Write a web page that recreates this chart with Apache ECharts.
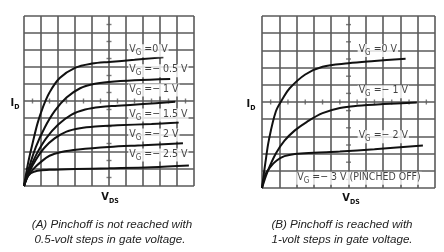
<!DOCTYPE html>
<html><head><meta charset="utf-8">
<script src="https://cdn.jsdelivr.net/npm/echarts@6/dist/echarts.min.js"></script>
<style>html,body{margin:0;padding:0;background:#fff}#c{width:444px;height:252px}</style>
</head><body><div id="c"></div><script>
// ---- data (grid units, 0..10 on both axes) ----
const gridTicks = [0,1,2,3,4,5,6,7,8,9,10];
// Panel A curves: [VDS, ID]
const A_vg0    = [[0,0],[0.25,1.4],[0.55,2.7],[0.8,3.7],[1.1,4.6],[1.5,5.5],[2.1,6.35],[3,6.95],[4,7.2],[5,7.3],[6.5,7.42],[8.2,7.58]];
const A_vg05   = [[0,0],[0.3,1.1],[0.7,2.3],[1.2,3.4],[1.8,4.4],[2.5,5.2],[3.3,5.75],[4.1,6.0],[5,6.12],[6.5,6.22],[8.6,6.3]];
const A_vg1    = [[0,0],[0.3,0.9],[0.7,1.8],[1.3,2.8],[2,3.6],[2.8,4.2],[3.6,4.5],[4.5,4.65],[5.5,4.72],[7,4.82],[8.9,4.95]];
const A_vg15   = [[0,0],[0.3,0.8],[0.7,1.55],[1.2,2.25],[1.8,2.8],[2.5,3.2],[3.3,3.4],[4.2,3.5],[5.5,3.57],[7.5,3.65],[9.1,3.73]];
const A_vg2    = [[0,0],[0.25,0.6],[0.6,1.05],[1,1.42],[1.5,1.78],[2.2,2.0],[3.2,2.15],[5,2.3],[7,2.4],[9.35,2.52]];
const A_vg25   = [[0,0],[0.15,0.45],[0.4,0.75],[0.8,0.9],[1.5,0.95],[3,1.0],[5,1.04],[7.5,1.1],[9.7,1.2]];
const A_curves = [A_vg0, A_vg05, A_vg1, A_vg15, A_vg2, A_vg25];
const A_labels = ['0 V','\u2212 0.5 V','\u2212 1 V','\u2212 1.5 V','\u2212 2 V','\u2212 2.5 V'];
const A_labelAnchors = [[6.1,7.96],[6.1,6.78],[6.1,5.65],[6.1,4.18],[6.1,3.0],[6.1,1.82]];
// Panel B curves
const B_vg0    = [[0,0],[0.2,1.5],[0.4,2.8],[0.8,4.45],[1.2,5.2],[1.6,5.8],[2.5,6.6],[3.5,7.05],[5,7.25],[6.5,7.38],[8.3,7.52]];
const B_vg1    = [[0,0],[0.3,0.9],[0.8,2.0],[1.3,2.75],[1.9,3.35],[2.6,3.85],[3.5,4.35],[4.5,4.65],[5.5,4.78],[7,4.88],[8.95,4.97]];
const B_vg2    = [[0,0],[0.2,0.8],[0.5,1.25],[0.85,1.6],[1.3,1.85],[1.9,1.98],[3,2.05],[4.5,2.12],[6.5,2.25],[9.3,2.47]];
const B_curves = [B_vg0, B_vg1, B_vg2];
const B_labels = ['0 V','\u2212 1 V','\u2212 2 V','\u2212 3 V (PINCHED OFF)'];
const B_labelAnchors = [[5.5,8.0],[5.5,5.6],[5.5,2.98],[1.95,0.57]];
const captionA = ['(A) Pinchoff is not reached with','0.5-volt steps in gate voltage.'];
const captionB = ['(B) Pinchoff is reached with','1-volt steps in gate voltage.'];

// ---- chart ----
const F = '"DejaVu Sans Condensed","Liberation Sans Narrow",sans-serif';
const GRIDC = '#5a5a5a';
const halves = gridTicks.slice(0,10).map(t => t + 0.5);

function axis(idx){
  return {
    type:'value', min:0, max:10, interval:1, gridIndex:idx,
    axisLabel:{show:false}, axisTick:{show:false}, axisLine:{show:false},
    splitLine:{show:true, lineStyle:{color:GRIDC, width:1.6}}
  };
}
const rich = {
  v:{fontSize:10.5, fontFamily:F, color:'#111', lineHeight:13, verticalAlign:'top'},
  s:{fontSize:8, fontFamily:F, color:'#111', lineHeight:9, verticalAlign:'bottom'}
};
const series = [];
function addPanel(idx, curves, labels, anchors){
  curves.forEach(c => series.push({
    type:'line', xAxisIndex:idx, yAxisIndex:idx, data:c, smooth:0.35,
    symbol:'none', lineStyle:{color:'#111', width:2}, z:3, silent:true
  }));
  // center cross tick marks
  series.push({type:'scatter', xAxisIndex:idx, yAxisIndex:idx, symbol:'rect', symbolSize:[5,1.4],
    data:halves.map(h=>[5,h]), itemStyle:{color:GRIDC}, silent:true, z:2});
  series.push({type:'scatter', xAxisIndex:idx, yAxisIndex:idx, symbol:'rect', symbolSize:[1.4,5],
    data:halves.map(h=>[h,5]), itemStyle:{color:GRIDC}, silent:true, z:2});
  series.push({type:'scatter', xAxisIndex:idx, yAxisIndex:idx, symbolSize:1, itemStyle:{color:'rgba(0,0,0,0)'},
    silent:true, z:5,
    data:anchors.map((a,i)=>({value:a, name:labels[i]})),
    label:{show:true, position:'right', distance:0, backgroundColor:'#fff', padding:[0,1,0,1],
      formatter:p=>'{v|V}{s|G}{v| =' + p.name + '}', rich:rich}
  });
}
addPanel(0, A_curves, A_labels, A_labelAnchors);
addPanel(1, B_curves, B_labels, B_labelAnchors);

const boldRich = {
  b:{fontSize:11, fontWeight:'bold', fontFamily:F, fill:'#111', lineHeight:13, verticalAlign:'top'},
  s:{fontSize:7, fontWeight:'bold', fontFamily:F, fill:'#111', lineHeight:8, verticalAlign:'bottom'}
};
function rtext(x,y,str){
  return {type:'text', x:x, y:y, style:{text:str, rich:boldRich, align:'center', verticalAlign:'middle', fill:'#111'}};
}
function caption(x,y,str){
  return {type:'text', x:x, y:y, style:{text:str, font:'italic 11.6px "Liberation Sans",Arial,sans-serif', fill:'#222', align:'center', verticalAlign:'middle'}};
}

const chart = echarts.init(document.getElementById('c'), null, {renderer:'canvas'});
chart.setOption({
  animation:false,
  backgroundColor:'#fff',
  grid:[{left:24, top:16, width:170, height:170}, {left:262, top:16, width:173, height:172}],
  xAxis:[axis(0), axis(1)],
  yAxis:[axis(0), axis(1)],
  series:series,
  graphic:[
    rtext(15,104,'{b|I}{s|D}'),
    rtext(251,105,'{b|I}{s|D}'),
    rtext(110,198,'{b|V}{s|DS}'),
    rtext(351,199,'{b|V}{s|DS}'),
    caption(112,225,captionA[0]), caption(110,240,captionA[1]),
    caption(342,225,captionB[0]), caption(342,240,captionB[1])
  ]
});
</script></body></html>
